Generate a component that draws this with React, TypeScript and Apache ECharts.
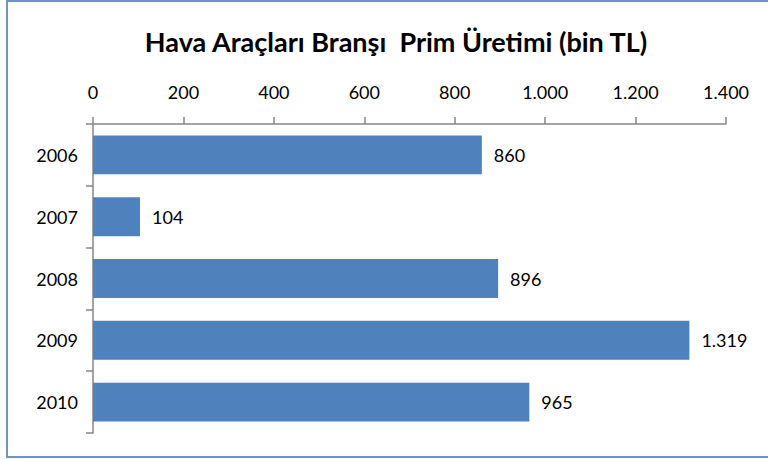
import React, { useEffect, useRef } from "react";
import * as echarts from "echarts";

const categories = ["2006", "2007", "2008", "2009", "2010"];
const values = [860, 104, 896, 1319, 965];
const axisMax = 1400;
const axisStep = 200;
const titleText = "Hava Araçları Branşı  Prim Üretimi (bin TL)";

const fmt = (v: number) => String(v).replace(/\B(?=(\d{3})+(?!\d))/g, ".");

export default function App() {
  const ref = useRef<HTMLDivElement>(null);
  useEffect(() => {
    if (!ref.current) return;
    const chart = echarts.init(ref.current, undefined, { renderer: "svg" });
    const font = "Lato, 'Open Sans', sans-serif";
    chart.setOption({
      animation: false,
      backgroundColor: "#ffffff",
      title: {
        text: titleText,
        left: 391,
        textAlign: "center",
        top: 23,
        textStyle: { fontFamily: font, fontSize: 27, fontWeight: "bold", color: "#000" },
      },
      graphic: [
        {
          type: "rect",
          shape: { x: 7, y: 1, width: 800, height: 456 },
          style: { fill: "none", stroke: "#6f93c6", lineWidth: 2 },
          silent: true,
        },
      ],
      grid: { left: 93, right: 42, top: 124, bottom: 26 },
      xAxis: {
        type: "value",
        position: "top",
        min: 0,
        max: axisMax,
        interval: axisStep,
        splitLine: { show: false },
        axisLine: { show: true, lineStyle: { color: "#868686", width: 1.5 } },
        axisTick: { show: true, length: 7, lineStyle: { color: "#868686", width: 1.5 } },
        axisLabel: {
          margin: 23,
          fontFamily: font,
          fontSize: 18,
          color: "#000",
          formatter: (v: number) => fmt(v),
        },
      },
      yAxis: {
        type: "category",
        data: categories,
        inverse: true,
        axisLine: { show: true, lineStyle: { color: "#868686", width: 1.5 } },
        axisTick: { show: true, length: 7, lineStyle: { color: "#868686", width: 1.5 } },
        axisLabel: { margin: 15, fontFamily: font, fontSize: 18, color: "#000" },
      },
      series: [
        {
          type: "bar",
          data: values,
          barCategoryGap: "37%",
          itemStyle: { color: "#4f81bd" },
          label: {
            show: true,
            position: "right",
            distance: 12,
            fontFamily: font,
            fontSize: 18,
            color: "#000",
            formatter: (p: any) => fmt(p.value),
          },
        },
      ],
    });
    return () => chart.dispose();
  }, []);
  return (
    <div
      ref={ref}
      style={{ position: "absolute", left: 0, top: 0, width: 768, height: 459 }}
    />
  );
}
